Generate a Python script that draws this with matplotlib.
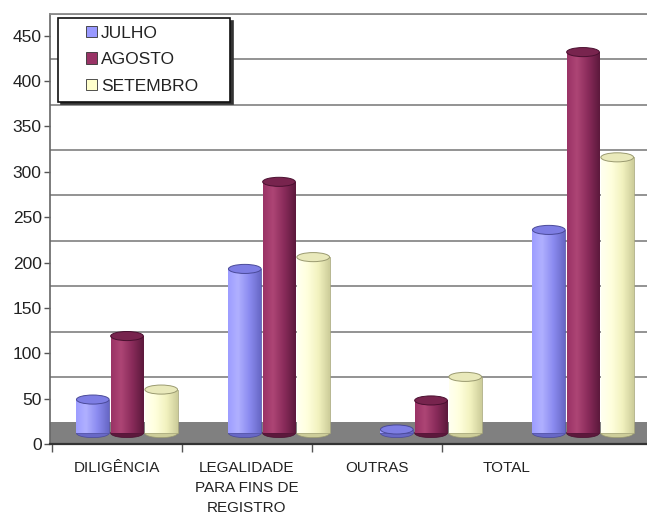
import numpy as np
import matplotlib.pyplot as plt
from matplotlib.patches import Ellipse, Rectangle
from matplotlib.colors import LinearSegmentedColormap
from matplotlib.legend_handler import HandlerPatch

plt.rcParams['font.family'] = ['Liberation Sans', 'DejaVu Sans']

categorias = ['DILIGÊNCIA', 'LEGALIDADE\nPARA FINS DE\nREGISTRO', 'OUTRAS', 'TOTAL']
meses = ['JULHO', 'AGOSTO', 'SETEMBRO']
julho = [37, 181, 4, 224]
agosto = [107, 277, 36, 420]
setembro = [48, 194, 62, 304]
yticks = [0, 50, 100, 150, 200, 250, 300, 350, 400, 450]

# cores: base, degrade (esq -> brilho -> dir), topo, contorno
estilos = [
    ('#9999ff', ['#9d9dff', '#b0b0ff', '#8b8bf0', '#6868c6'], '#7e7ee4', '#4a4a99'),
    ('#993366', ['#9a3366', '#ad4575', '#892b5a', '#5c193c'], '#78244e', '#4a1030'),
    ('#ffffcc', ['#fffff0', '#ffffde', '#f2f2bf', '#cdcd9a'], '#e9e9bb', '#9a9a70'),
]
series = [julho, agosto, setembro]

PROF = 24     # profundidade do piso (unidades do eixo)
BASE = 12     # base dos cilindros no meio do piso
LARG = 0.215
DESL = 0.225
TAMPA = 10

fig = plt.figure(figsize=(6.47, 5.16), dpi=100)
ax = fig.add_axes([50 / 647, 72 / 516, 597 / 647, 430 / 516])
xlim = (-77 / 152, 520 / 152)
ylim = (0, 474)

# parede do fundo e piso
for v in yticks[1:]:
    ax.axhline(v + PROF, color='#8a8a8a', lw=1.3, zorder=1)
ax.axhspan(0, PROF, color='#808080', zorder=2, lw=0)

grad = np.linspace(0, 1, 80).reshape(1, -1)
x = np.arange(len(categorias))
for j, (vals, (base, degr, topo, borda)) in enumerate(zip(series, estilos)):
    cmap = LinearSegmentedColormap.from_list('c%d' % j, list(zip([0, 0.3, 0.65, 1], degr)))
    barras = ax.bar(x + (j - 1) * DESL, vals, width=LARG, bottom=BASE, color=base,
                    edgecolor=borda, lw=0.5, zorder=4)
    for b in barras:
        x0, y0, w, h = b.get_x(), b.get_y(), b.get_width(), b.get_height()
        im = ax.imshow(grad, cmap=cmap, extent=(x0, x0 + w, y0, y0 + h),
                       aspect='auto', interpolation='bilinear', zorder=4.1)
        im.set_clip_path(b)
        ax.add_patch(Ellipse((x0 + w / 2, y0), w, TAMPA, facecolor=degr[3],
                             edgecolor=borda, lw=0.5, zorder=3.5))
        ax.add_patch(Ellipse((x0 + w / 2, y0 + h), w, TAMPA, facecolor=topo,
                             edgecolor=borda, lw=0.7, zorder=5))

ax.set_xlim(*xlim)
ax.set_ylim(*ylim)

ax.set_yticks(yticks)
ax.tick_params(axis='y', direction='out', length=4, width=1, color='#555555',
               pad=2, labelsize=12.5, labelcolor='#222222')
ax.set_xticks([])
ax.spines['right'].set_visible(False)
ax.spines['top'].set_color('#8a8a8a')
ax.spines['top'].set_linewidth(1.3)
ax.spines['left'].set_color('#666666')
ax.spines['left'].set_linewidth(1.2)
ax.spines['bottom'].set_color('#333333')
ax.spines['bottom'].set_linewidth(1.6)


# eixo da frente do piso (rotulos das categorias)
def frente(v):
    return (152 * np.asarray(v) + 10) / 130


def fundo(u):
    return (130 * np.asarray(u) - 10) / 152


sec = ax.secondary_xaxis('bottom', functions=(frente, fundo))
sec.set_xticks(range(len(categorias)))
sec.set_xticklabels(categorias, fontsize=11, color='#222222', linespacing=1.55)
sec.set_xticks([-0.5, 0.5, 1.5, 2.5], minor=True)
sec.tick_params(axis='x', which='major', length=0, pad=12)
sec.tick_params(axis='x', which='minor', length=6, width=1, color='#555555')
sec.spines['bottom'].set_visible(False)


def quadrado(legend, orig_handle, xdescent, ydescent, width, height, fontsize):
    return Rectangle((-xdescent + width - height, -ydescent), height, height)


alcas = [Rectangle((0, 0), 1, 1, facecolor=e[0], edgecolor='#333333', lw=0.6) for e in estilos]
leg = ax.legend(alcas, meses, loc='upper left', bbox_to_anchor=(0.0134, 0.5, 0.288, 0.4907),
                mode='expand', borderaxespad=0, fontsize=12.5, frameon=True, fancybox=False,
                edgecolor='#111111', framealpha=1, shadow={'color': '#333333', 'alpha': 1},
                handlelength=1.8, handleheight=0.63, handletextpad=0.22,
                borderpad=0.45, labelspacing=0.66,
                handler_map={Rectangle: HandlerPatch(patch_func=quadrado)})
leg.get_frame().set_linewidth(1.2)
for t in leg.get_texts():
    t.set_color('#222222')
leg.set_zorder(10)

fig.savefig('out.png', dpi=100)
